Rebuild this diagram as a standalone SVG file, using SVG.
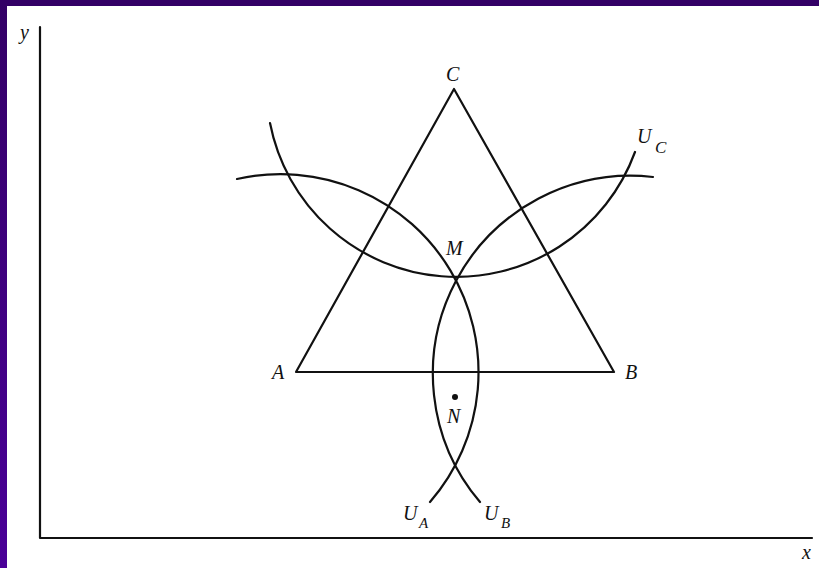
<svg xmlns="http://www.w3.org/2000/svg" width="819" height="568" viewBox="0 0 819 568">
<defs>
<linearGradient id="lb" x1="0" y1="0" x2="0" y2="1">
<stop offset="0" stop-color="#330066"/>
<stop offset="1" stop-color="#4a0098"/>
</linearGradient>
</defs>
<style>
.ln{fill:none;stroke:#111;stroke-width:2.2;stroke-linecap:round;stroke-linejoin:round}
.t{font-family:"Liberation Serif","Times New Roman",serif;font-style:italic;fill:#111;font-size:20px}
.s{font-size:15px}
</style>
<rect x="0" y="0" width="819" height="568" fill="#ffffff"/>
<rect x="0" y="0" width="819" height="6" fill="#330066"/>
<rect x="0" y="0" width="7" height="568" fill="url(#lb)"/>
<g id="axes">
<path class="ln" d="M40,27 L40,538 L812,538"/>
<text class="t" x="20" y="39">y</text>
<text class="t" x="802" y="559">x</text>
</g>
<g id="triangle">
<path class="ln" d="M296,372 L454,89 L614,372 Z"/>
</g>
<g id="curves">
<path id="UA" class="ln" d="M237,179 A198,198 0 0 1 430,502"/>
<path id="UB" class="ln" d="M653,177 A198,198 0 0 0 480,502"/>
<path id="UC" class="ln" d="M270,123 A190,190 0 0 0 635,152"/>
</g>
<g id="nodeA"><text class="t" x="272" y="379">A</text></g>
<g id="nodeB"><text class="t" x="625" y="379">B</text></g>
<g id="nodeC"><text class="t" x="446" y="81">C</text></g>
<g id="nodeM"><text class="t" x="446" y="255">M</text></g>
<g id="nodeN">
<circle cx="455" cy="397" r="3" fill="#111"/>
<text class="t" x="447" y="423">N</text>
</g>
<g id="labelUA"><text class="t" x="403" y="520">U</text><text class="t s" x="419" y="528">A</text></g>
<g id="labelUB"><text class="t" x="484" y="520">U</text><text class="t s" x="501" y="528">B</text></g>
<g id="labelUC"><text class="t" x="637" y="143">U</text><text class="t" x="655" y="153" style="font-size:17px">C</text></g>
</svg>
